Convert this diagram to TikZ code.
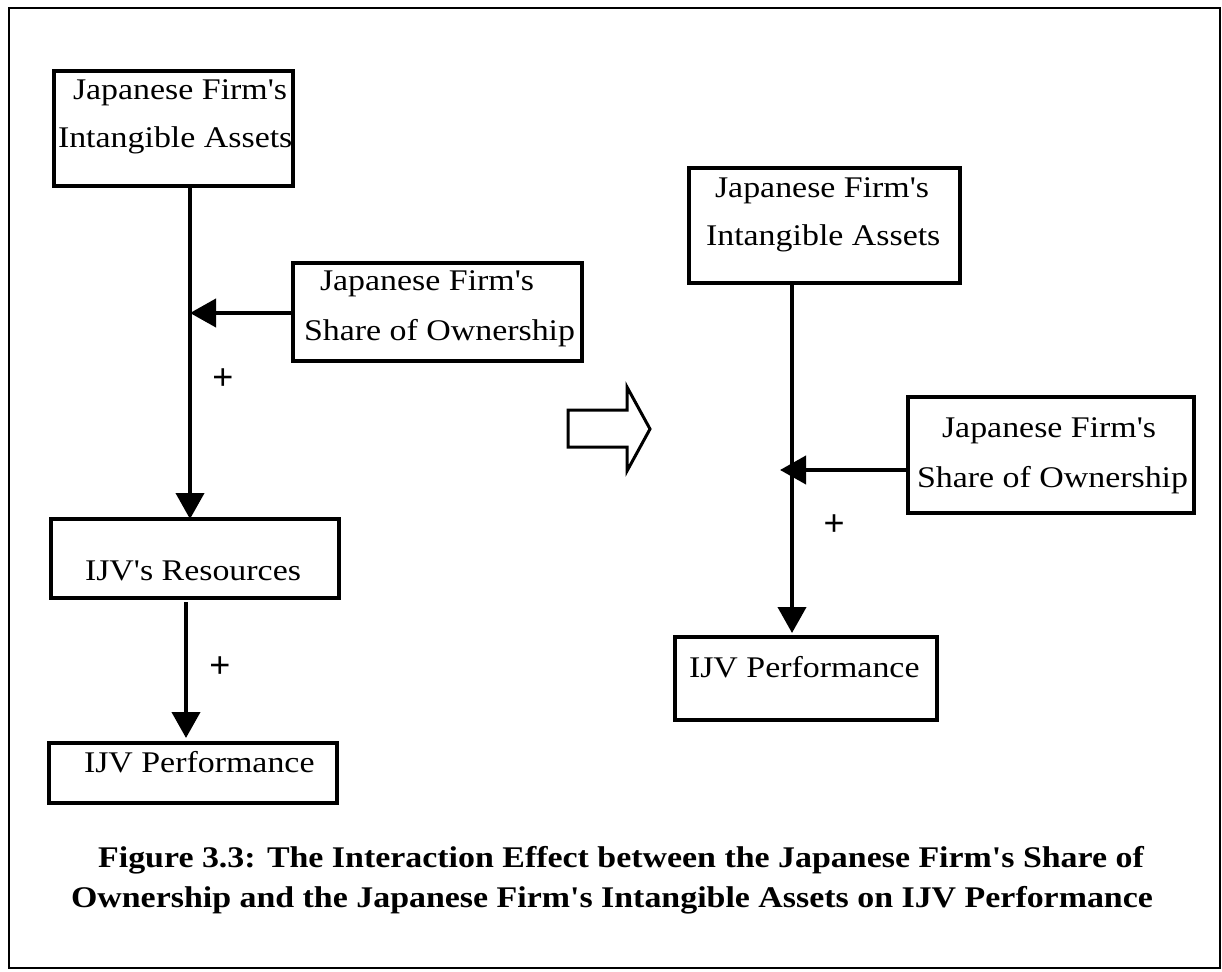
\documentclass[tikz,border=0pt]{standalone}
\usepackage{fontspec}
\setmainfont{Liberation Serif}[FakeStretch=1.13,Ligatures=TeXOff]
\newfontfamily\plusfont{Liberation Sans}
\usetikzlibrary{arrows.meta}
\begin{document}
\begin{tikzpicture}[x=1pt,y=-1pt,
  every node/.style={inner sep=0pt,outer sep=0pt},
  box/.style={draw,line width=3.5pt,rectangle},
  txt/.style={anchor=base west,font=\fontsize{30}{36}\selectfont},
  plus/.style={font=\plusfont\fontsize{36}{40}\selectfont},
  conn/.style={line width=4pt,-{Triangle[length=26pt,width=28pt]}},
  captext/.style={font=\fontsize{30}{36}\selectfont\bfseries}]
\useasboundingbox (0,0) rectangle (1222,971);
% outer frame
\draw[line width=2.2pt] (9,8) rectangle (1220,968);

% ---------- left model: mediated path ----------
\node[box,minimum width=239pt,minimum height=115pt] (b1) at (173.5,128.5) {};
\node[txt] (b1a) at (73,100) {Japanese Firm's};
\node[txt] (b1b) at (58,147) {Intangible Assets};

\node[box,minimum width=289pt,minimum height=98pt] (b2) at (437.5,312) {};
\node[txt] (b2a) at (320,290) {Japanese Firm's};
\node[txt] (b2b) at (304,340) {Share of Ownership};

\node[box,minimum width=288pt,minimum height=79pt] (b3) at (195,558.5) {};
\node[txt] (b3a) at (85,580) {IJV's Resources};

\node[box,minimum width=288pt,minimum height=60pt] (b4) at (193,773) {};
\node[txt] (b4a) at (84,772) {IJV Performance};

\coordinate (jL) at (190,313);
\coordinate (kL) at (186,700);
\draw[conn] (b1.south -| jL) -- (b3.north -| jL);
\draw[conn] (b2.west |- jL) -- (jL);
\draw[conn] ([yshift=-4pt]b3.south -| kL) -- ([yshift=5pt]b4.north -| kL);
\node[plus] (p1) at (223,379) {+};
\node[plus] (p2) at (220,667) {+};

% ---------- hollow block arrow ----------
\draw[line width=3pt,line join=miter]
  (568,410) -- (627,410) -- (627,387) -- (650,429) -- (627,471)
  -- (627,447) -- (568,447) -- cycle;

% ---------- right model: direct path ----------
\node[box,minimum width=271pt,minimum height=115pt] (r1) at (824.5,225.5) {};
\node[txt] (r1a) at (715,197) {Japanese Firm's};
\node[txt] (r1b) at (706,245) {Intangible Assets};

\node[box,minimum width=286pt,minimum height=116pt] (r2) at (1051,455) {};
\node[txt] (r2a) at (942,437) {Japanese Firm's};
\node[txt] (r2b) at (917,487) {Share of Ownership};

\node[box,minimum width=262pt,minimum height=83pt] (r3) at (806,678.5) {};
\node[txt] (r3a) at (689,677) {IJV Performance};

\coordinate (vR) at (792,550);
\coordinate (jR) at (780,470);
\draw[conn] (r1.south -| vR) -- ([yshift=4pt]r3.north -| vR);
\draw[conn] (r2.west |- jR) -- (jR);
\node[plus] (p3) at (834,525) {+};

% ---------- caption ----------
\node[captext,anchor=base] (c1) at (621,867) {Figure 3.3: The Interaction Effect between the Japanese Firm's Share of};
\node[captext,anchor=base] (c2) at (612,907) {Ownership and the Japanese Firm's Intangible Assets on IJV Performance};
\end{tikzpicture}
\end{document}
